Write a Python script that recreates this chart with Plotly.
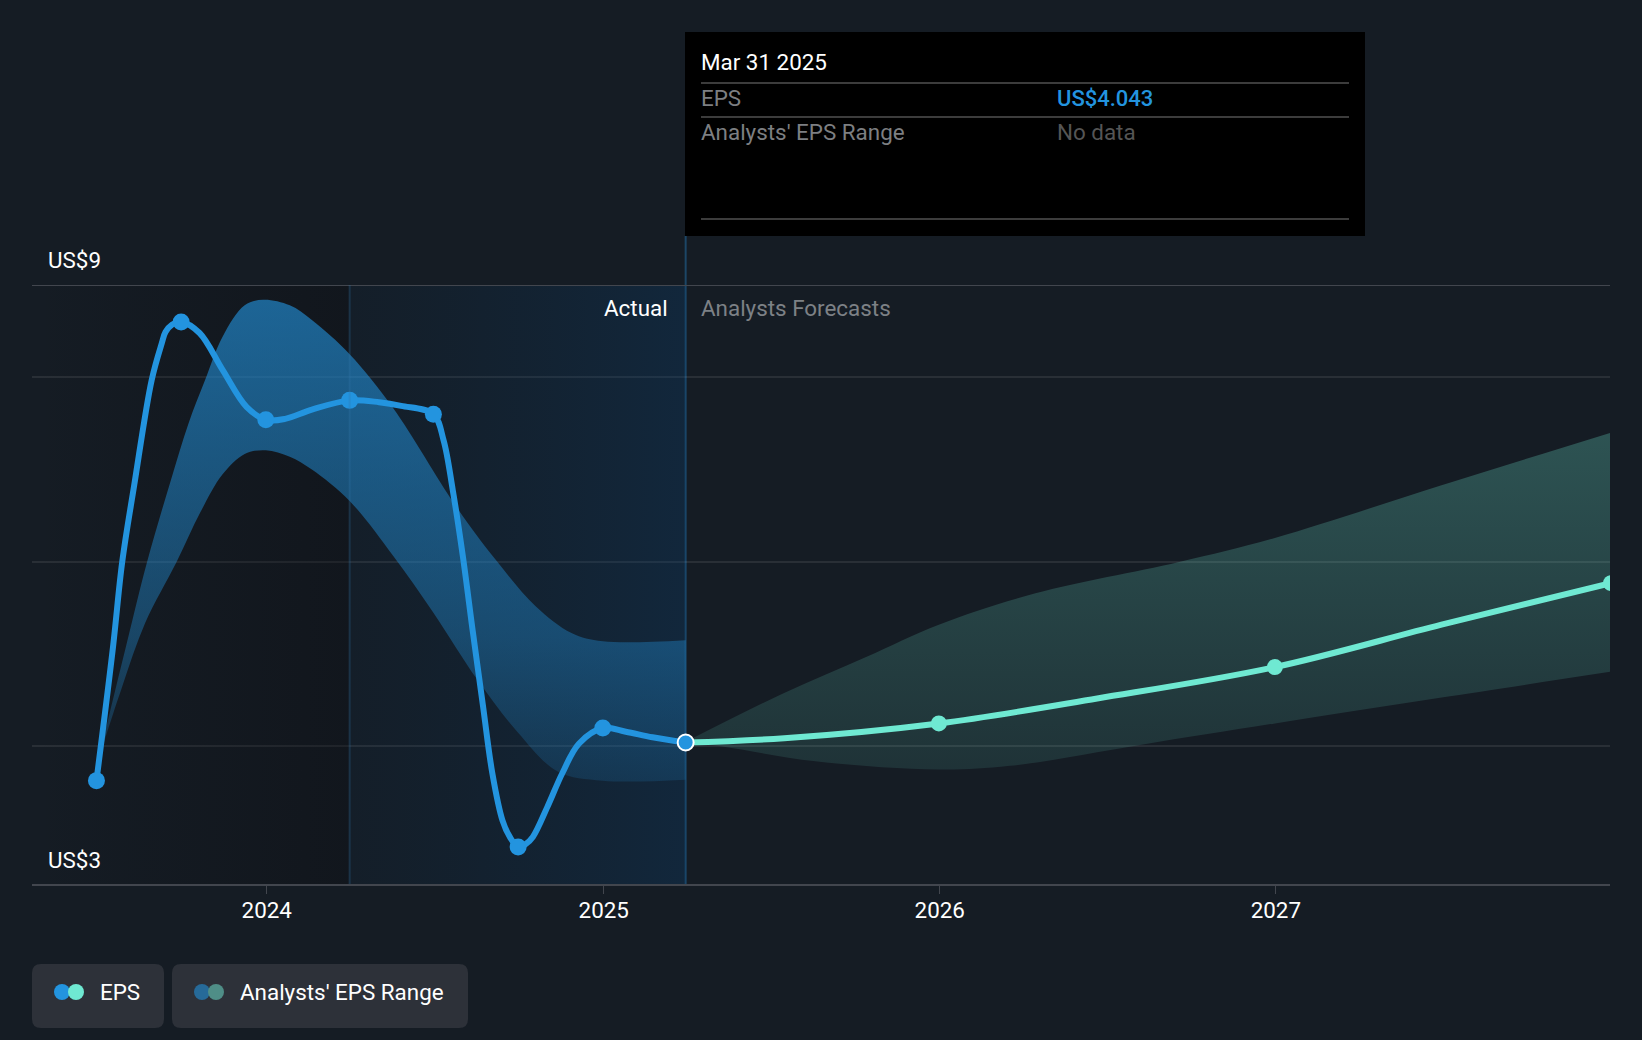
import plotly.graph_objects as go

W, H = 1642, 1040
BG = "#151c24"
BLUE = "#2394df"
TEAL = "#6fe9d2"
AXIS = "#42464e"
GRID = "rgba(255,255,255,0.085)"

marker_dates = ["2023-06-30", "2023-09-30", "2023-12-31", "2024-03-31", "2024-06-30", "2024-09-30", "2024-12-31"]
marker_values = [3.63, 8.60, 7.54, 7.75, 7.60, 2.91, 4.20]
current_date = ["2025-03-31"]
current_value = [4.043]

eps_dates = ["2023-06-30", "2023-07-18", "2023-07-28", "2023-08-10", "2023-08-29", "2023-09-09", "2023-09-13",
             "2023-09-20", "2023-09-30",
             "2023-10-20", "2023-11-14", "2023-12-10", "2023-12-31", "2024-01-21", "2024-02-19", "2024-03-31",
             "2024-05-02", "2024-05-26", "2024-06-30", "2024-07-11", "2024-07-21", "2024-08-01", "2024-08-12",
             "2024-08-23", "2024-09-02", "2024-09-13", "2024-09-21", "2024-09-30", "2024-10-08", "2024-10-16",
             "2024-11-01", "2024-11-17", "2024-12-05", "2024-12-31", "2025-01-25", "2025-02-23", "2025-03-31"]
eps_values = [3.63, 5.08, 6.00, 6.83, 7.97, 8.37, 8.49,
              8.57, 8.60,
              8.48, 8.08, 7.68, 7.54, 7.55, 7.65, 7.75,
              7.73, 7.69, 7.60, 7.32, 6.78, 6.06, 5.23,
              4.43, 3.71, 3.20, 3.02, 2.91, 2.94, 3.02,
              3.35, 3.71, 4.03, 4.20, 4.16, 4.10, 4.043]

upper_dates = ["2023-06-30", "2023-07-06", "2023-08-02", "2023-08-24", "2023-09-19", "2023-10-08", "2023-10-26",
               "2023-11-14", "2023-12-08", "2023-12-28", "2024-01-26", "2024-02-19", "2024-03-31", "2024-05-17",
               "2024-07-24", "2024-09-05", "2024-10-19", "2024-11-27", "2024-12-31", "2025-03-31"]
upper_values = [3.70, 4.00, 5.12, 6.00, 6.89, 7.50, 7.97,
                8.44, 8.78, 8.84, 8.78, 8.62, 8.25, 7.67,
                6.61, 6.03, 5.52, 5.23, 5.14, 5.15]
lower_dates = ["2023-06-30", "2023-07-05", "2023-07-28", "2023-08-22", "2023-09-25", "2023-10-21", "2023-11-14",
               "2023-12-08", "2023-12-31", "2024-01-26", "2024-02-19", "2024-03-31", "2024-05-17", "2024-06-30",
               "2024-08-17", "2024-09-30", "2024-11-12", "2024-12-31", "2025-03-31"]
lower_values = [3.70, 3.93, 4.65, 5.34, 6.00, 6.54, 6.95,
                7.17, 7.21, 7.14, 7.00, 6.66, 6.07, 5.45,
                4.72, 4.15, 3.73, 3.63, 3.64]

fc_marker_dates = ["2025-12-31", "2026-12-31", "2027-12-31"]
fc_marker_values = [4.25, 4.86, 5.77]
fc_dates = ["2025-03-31", "2025-07-16", "2025-12-31", "2026-06-21", "2026-12-31", "2027-06-30", "2027-12-31"]
fc_values = [4.043, 4.09, 4.25, 4.52, 4.86, 5.32, 5.77]
fc_upper_dates = ["2025-03-31", "2025-07-16", "2025-10-13", "2025-12-31", "2026-04-15", "2026-09-18", "2026-12-31",
                  "2027-06-30", "2027-12-31"]
fc_upper_values = [4.05, 4.58, 4.97, 5.32, 5.66, 6.00, 6.26, 6.83, 7.40]
fc_lower_dates = ["2025-03-31", "2025-05-10", "2025-08-19", "2025-12-31", "2026-03-18", "2026-08-08", "2026-12-31",
                  "2027-06-30", "2027-12-31"]
fc_lower_values = [4.05, 4.00, 3.84, 3.75, 3.79, 4.02, 4.25, 4.53, 4.81]

x_ticks = ["2024-01-01", "2025-01-01", "2026-01-01", "2027-01-01"]
grid_values = [4, 6, 8]
y_range = [2.51, 9]
x_range = ["2023-04-21", "2027-12-30"]
actual_start = "2024-03-31"
actual_end = "2025-03-31"

SMOOTH = 1.0


def px(x):
    return x / W


def py(y):
    return 1 - y / H


fig = go.Figure()

# shaded history regions
fig.add_trace(go.Scatter(x=[x_range[0], actual_start, actual_start, x_range[0], x_range[0]],
                         y=[y_range[0], y_range[0], y_range[1], y_range[1], y_range[0]],
                         mode="lines", line=dict(width=0), fill="toself", hoverinfo="skip",
                         fillgradient=dict(type="horizontal",
                                           colorscale=[[0, "rgba(10,10,14,0.0)"], [1, "rgba(10,10,14,0.32)"]])))
fig.add_trace(go.Scatter(x=[actual_start, actual_end, actual_end, actual_start, actual_start],
                         y=[y_range[0], y_range[0], y_range[1], y_range[1], y_range[0]],
                         mode="lines", line=dict(width=0), fill="toself", hoverinfo="skip",
                         fillgradient=dict(type="horizontal",
                                           colorscale=[[0, "rgba(10,50,85,0.10)"], [1, "rgba(10,65,115,0.30)"]])))

# ranges: lower edge first, upper edge fills down to it
fig.add_trace(go.Scatter(x=lower_dates, y=lower_values, mode="lines", hoverinfo="skip",
                         line=dict(width=0, shape="spline", smoothing=SMOOTH)))
fig.add_trace(go.Scatter(x=upper_dates, y=upper_values, mode="lines", hoverinfo="skip",
                         line=dict(width=0, shape="spline", smoothing=SMOOTH), fill="tonexty",
                         fillgradient=dict(type="vertical",
                                           colorscale=[[0, "rgba(35,148,223,0.16)"], [0.3, "rgba(35,148,223,0.36)"],
                                                       [1, "rgba(35,148,223,0.62)"]])))
fig.add_trace(go.Scatter(x=fc_lower_dates, y=fc_lower_values, mode="lines", hoverinfo="skip",
                         line=dict(width=0, shape="spline", smoothing=SMOOTH)))
fig.add_trace(go.Scatter(x=fc_upper_dates, y=fc_upper_values, mode="lines", hoverinfo="skip",
                         line=dict(width=0, shape="spline", smoothing=SMOOTH), fill="tonexty",
                         fillgradient=dict(type="vertical",
                                           colorscale=[[0, "rgba(111,233,210,0.11)"], [1, "rgba(111,233,210,0.27)"]])))

# lines
fig.add_trace(go.Scatter(x=eps_dates, y=eps_values, mode="lines",
                         line=dict(color=BLUE, width=6, shape="spline", smoothing=SMOOTH), hoverinfo="skip"))
fig.add_trace(go.Scatter(x=fc_dates, y=fc_values, mode="lines",
                         line=dict(color=TEAL, width=6, shape="spline", smoothing=SMOOTH), hoverinfo="skip"))
fig.add_trace(go.Scatter(x=marker_dates, y=marker_values, mode="markers",
                         marker=dict(color=BLUE, size=17), hoverinfo="skip"))
fig.add_trace(go.Scatter(x=fc_marker_dates, y=fc_marker_values, mode="markers",
                         marker=dict(color=TEAL, size=16), hoverinfo="skip"))
fig.add_trace(go.Scatter(x=current_date, y=current_value, mode="markers",
                         marker=dict(color=BLUE, size=16, line=dict(color="white", width=2)), hoverinfo="skip"))

shapes = [
    # top rule
    dict(type="line", xref="paper", yref="y", x0=px(32), x1=px(1610), y0=y_range[1], y1=y_range[1],
         line=dict(color=AXIS, width=2), layer="above"),
    # period dividers
    dict(type="line", xref="x", yref="paper", x0=actual_start, x1=actual_start, y0=py(884), y1=py(285),
         line=dict(color="rgba(50,120,170,0.28)", width=2), layer="above"),
    dict(type="line", xref="x", yref="paper", x0=actual_end, x1=actual_end, y0=py(884), y1=py(236),
         line=dict(color="#1c4666", width=2), layer="below"),
    # tooltip
    dict(type="rect", xref="paper", yref="paper", x0=px(685), x1=px(1365), y0=py(236), y1=py(32),
         fillcolor="#000000", line=dict(width=0), layer="above"),
]
for yy in (83, 117, 219):
    shapes.append(dict(type="line", xref="paper", yref="paper", x0=px(701), x1=px(1349), y0=py(yy), y1=py(yy),
                       line=dict(color="#3c3c3c", width=2), layer="above"))


def rounded(x0, y0, x1, y1, r):
    return (f"M {px(x0 + r)} {py(y0)} L {px(x1 - r)} {py(y0)} Q {px(x1)} {py(y0)} {px(x1)} {py(y0 + r)} "
            f"L {px(x1)} {py(y1 - r)} Q {px(x1)} {py(y1)} {px(x1 - r)} {py(y1)} "
            f"L {px(x0 + r)} {py(y1)} Q {px(x0)} {py(y1)} {px(x0)} {py(y1 - r)} "
            f"L {px(x0)} {py(y0 + r)} Q {px(x0)} {py(y0)} {px(x0 + r)} {py(y0)} Z")


for box in ((32, 964, 164, 1028), (172, 964, 468, 1028)):
    shapes.append(dict(type="path", xref="paper", yref="paper", path=rounded(*box, 9),
                       fillcolor="#2d3139", line=dict(width=0), layer="above"))
for cx, color in ((62, "#2394df"), (76, "#6fe9d2"), (202, "#266a99"), (216, "#4f8e87")):
    shapes.append(dict(type="circle", xref="paper", yref="paper", x0=px(cx - 8), x1=px(cx + 8),
                       y0=py(992 + 8), y1=py(992 - 8), fillcolor=color, line=dict(width=0), layer="above"))

FONT = "Roboto"
SIZE = 22.4


def label(x, y, text, color="#ffffff", anchor="left", weight=400, size=SIZE):
    return dict(xref="paper", yref="paper", x=px(x), y=py(y), text=text, showarrow=False,
                xanchor=anchor, yanchor="middle", xshift=0, borderpad=0, borderwidth=0,
                font=dict(family=FONT, size=size, color=color, weight=weight))


annotations = [
    label(48, 260, "US$9"),
    label(48, 860, "US$3"),
    label(668, 308, "Actual", anchor="right"),
    label(701, 308, "Analysts Forecasts", color="#7d8186"),
    label(701, 62, "Mar 31 2025"),
    label(701, 98, "EPS", color="#7d7f82"),
    label(1057, 98, "US$4.043", color=BLUE, weight=500, size=22),
    label(701, 132, "Analysts' EPS Range", color="#7d7f82"),
    label(1057, 132, "No data", color="#555555"),
    label(100, 992, "EPS"),
    label(240, 992, "Analysts' EPS Range"),
]

fig.update_layout(
    width=W, height=H, autosize=False,
    margin=dict(l=0, r=0, t=0, b=0),
    paper_bgcolor=BG, plot_bgcolor=BG,
    showlegend=False,
    hovermode=False,
    font=dict(family=FONT, size=SIZE, color="#ffffff"),
    shapes=shapes,
    annotations=annotations,
    xaxis=dict(domain=[px(32), px(1610)], type="date", range=x_range, tickvals=x_ticks, tickformat="%Y",
               showgrid=False, zeroline=False, showline=True, linecolor=AXIS, linewidth=2,
               ticks="outside", ticklen=8, tickwidth=1, tickcolor=AXIS, ticklabelstandoff=-3,
               tickfont=dict(family=FONT, size=SIZE, color="#ffffff")),
    yaxis=dict(domain=[py(884), py(285)], range=y_range, tickvals=grid_values, showticklabels=False,
               showgrid=True, gridcolor=GRID, gridwidth=2, zeroline=False, showline=False, ticks=""),
)

fig.write_html("out.html", config={"displayModeBar": False},
               post_script="document.body.style.margin='0';document.documentElement.style.background='" + BG + "';")
